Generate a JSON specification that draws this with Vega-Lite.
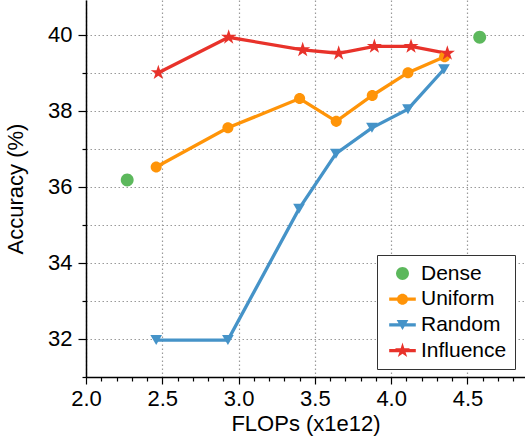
{
  "$schema": "https://vega.github.io/schema/vega-lite/v6.json",
  "width": 439,
  "height": 377,
  "autosize": {"type": "none"},
  "padding": {"left": 86, "top": 0, "right": 0, "bottom": 60},
  "background": "white",
  "data": {
    "values": [
      {"series": "Dense", "flops": 2.27, "acc": 36.18},
      {"series": "Dense", "flops": 4.58, "acc": 39.93},
      {"series": "Uniform", "flops": 2.46, "acc": 36.52},
      {"series": "Uniform", "flops": 2.93, "acc": 37.55},
      {"series": "Uniform", "flops": 3.40, "acc": 38.32},
      {"series": "Uniform", "flops": 3.64, "acc": 37.72},
      {"series": "Uniform", "flops": 3.876, "acc": 38.40},
      {"series": "Uniform", "flops": 4.11, "acc": 39.0},
      {"series": "Uniform", "flops": 4.35, "acc": 39.42},
      {"series": "Random", "flops": 2.46, "acc": 31.97},
      {"series": "Random", "flops": 2.93, "acc": 31.97},
      {"series": "Random", "flops": 3.396, "acc": 35.42},
      {"series": "Random", "flops": 3.638, "acc": 36.87},
      {"series": "Random", "flops": 3.874, "acc": 37.55},
      {"series": "Random", "flops": 4.11, "acc": 38.04},
      {"series": "Random", "flops": 4.346, "acc": 39.09},
      {"series": "Influence", "flops": 2.474, "acc": 39.0},
      {"series": "Influence", "flops": 2.935, "acc": 39.93},
      {"series": "Influence", "flops": 3.42, "acc": 39.6},
      {"series": "Influence", "flops": 3.656, "acc": 39.51},
      {"series": "Influence", "flops": 3.89, "acc": 39.69},
      {"series": "Influence", "flops": 4.13, "acc": 39.69},
      {"series": "Influence", "flops": 4.368, "acc": 39.51}
    ]
  },
  "config": {
    "font": "Liberation Sans",
    "view": {"stroke": null},
    "axis": {
      "labelFont": "Liberation Sans",
      "titleFont": "Liberation Sans",
      "labelFontSize": 22,
      "titleFontSize": 22,
      "titleFontWeight": "normal",
      "labelColor": "black",
      "titleColor": "black",
      "domainColor": "black",
      "domainWidth": 1.5,
      "tickColor": "black",
      "tickWidth": 1.2,
      "gridColor": "#9a9a9a",
      "gridDash": [1.5, 2.5],
      "gridWidth": 1.2
    },
    "legend": {
      "title": null,
      "orient": "none",
      "legendX": 291,
      "legendY": 255,
      "labelFont": "Liberation Sans",
      "labelFontSize": 21,
      "labelColor": "black",
      "strokeColor": "#333333",
      "fillColor": "white",
      "padding": 8,
      "rowPadding": 3.7,
      "symbolSize": 177,
      "symbolOffset": 7,
      "labelOffset": 8,
      "symbolStrokeWidth": 0
    }
  },
  "encoding": {
    "x": {
      "field": "flops",
      "type": "quantitative",
      "scale": {"domain": [2.0, 4.877], "nice": false, "zero": false},
      "axis": {
        "title": "FLOPs (x1e12)",
        "values": [2.0, 2.1, 2.2, 2.3, 2.4, 2.5, 2.6, 2.7, 2.8, 2.9, 3.0, 3.1, 3.2, 3.3, 3.4, 3.5, 3.6, 3.7, 3.8, 3.9, 4.0, 4.1, 4.2, 4.3, 4.4, 4.5, 4.6, 4.7, 4.8],
        "format": ".1f",
        "labelExpr": "abs(datum.value*2 - round(datum.value*2)) < 0.01 ? datum.label : ''",
        "tickSize": {"condition": {"test": "abs(datum.value*2 - round(datum.value*2)) < 0.01", "value": 7}, "value": 4},
        "gridOpacity": {"condition": {"test": "abs(datum.value*2 - round(datum.value*2)) < 0.01", "value": 1}, "value": 0},
        "labelPadding": 4,
        "titlePadding": 4,
        "labelFlush": false,
        "labelOverlap": false
      }
    },
    "y": {
      "field": "acc",
      "type": "quantitative",
      "scale": {"domain": [31, 40.91], "nice": false, "zero": false},
      "axis": {
        "title": "Accuracy (%)",
        "values": [31, 32, 33, 34, 35, 36, 37, 38, 39, 40],
        "labelExpr": "datum.value % 2 === 0 ? datum.label : ''",
        "tickSize": {"condition": {"test": "datum.value % 2 === 0", "value": 8}, "value": 4},
        "labelPadding": 6,
        "titlePadding": 20,
        "labelFlush": false,
        "labelOverlap": false
      }
    }
  },
  "layer": [
    {
      "transform": [{"filter": "datum.series !== 'Dense'"}],
      "mark": {"type": "line", "strokeWidth": 3.3},
      "encoding": {
        "stroke": {
          "field": "series",
          "type": "nominal",
          "scale": {"domain": ["Uniform", "Random", "Influence"], "range": ["#ff9408", "#4593c8", "#e8322a"]},
          "legend": null
        },
        "detail": {"field": "series"}
      }
    },
    {
      "transform": [{"filter": "datum.series === 'Dense'"}],
      "mark": {"type": "point", "filled": true, "opacity": 1, "size": 177, "strokeWidth": 0, "shape": "M0,-0.97 A0.97,0.97 0 1,1 0,0.97 A0.97,0.97 0 1,1 0,-0.97 Z"},
      "encoding": {
        "fill": {"field": "series", "type": "nominal", "scale": {"domain": ["Influence", "Random", "Uniform", "Dense"], "range": ["#e8322a", "#4593c8", "#ff9408", "#5cb85c"]}, "legend": null}
      }
    },
    {
      "transform": [{"filter": "datum.series === 'Uniform'"}],
      "mark": {"type": "point", "filled": true, "opacity": 1, "size": 177, "strokeWidth": 0, "shape": "M0,-0.83 A0.83,0.83 0 1,1 0,0.83 A0.83,0.83 0 1,1 0,-0.83 Z"},
      "encoding": {
        "fill": {"field": "series", "type": "nominal", "scale": {"domain": ["Influence", "Random", "Uniform", "Dense"], "range": ["#e8322a", "#4593c8", "#ff9408", "#5cb85c"]}, "legend": null}
      }
    },
    {
      "transform": [{"filter": "datum.series === 'Random'"}],
      "mark": {"type": "point", "filled": true, "opacity": 1, "size": 177, "strokeWidth": 0, "shape": "M-0.88,-0.75 L0.88,-0.75 L0,0.75 Z"},
      "encoding": {
        "fill": {"field": "series", "type": "nominal", "scale": {"domain": ["Influence", "Random", "Uniform", "Dense"], "range": ["#e8322a", "#4593c8", "#ff9408", "#5cb85c"]}, "legend": null}
      }
    },
    {
      "transform": [{"filter": "datum.series === 'Influence'"}],
      "mark": {"type": "point", "filled": true, "opacity": 1, "size": 177, "strokeWidth": 0, "shape": "M0,-1.2 L0.27,-0.37 L1.14,-0.37 L0.43,0.14 L0.7,0.97 L0,0.46 L-0.7,0.97 L-0.43,0.14 L-1.14,-0.37 L-0.27,-0.37 Z"},
      "encoding": {
        "fill": {"field": "series", "type": "nominal", "scale": {"domain": ["Influence", "Random", "Uniform", "Dense"], "range": ["#e8322a", "#4593c8", "#ff9408", "#5cb85c"]}, "legend": null}
      }
    },
    {
      "transform": [{"filter": "false"}],
      "mark": {"type": "point", "filled": true, "opacity": 1, "size": 177, "strokeWidth": 0},
      "encoding": {
        "color": {
          "field": "series",
          "type": "nominal",
          "scale": {"domain": ["Dense", "Uniform", "Random", "Influence"], "range": ["#5cb85c", "#ff9408", "#4593c8", "#e8322a"]},
          "legend": {"labelExpr": "datum.label + '\u00a0'"}
        },
        "shape": {
          "field": "series",
          "type": "nominal",
          "scale": {"domain": ["Dense", "Uniform", "Random", "Influence"], "range": ["M0,-0.97 A0.97,0.97 0 1,1 0,0.97 A0.97,0.97 0 1,1 0,-0.97 Z", "M-2,-0.25 L2,-0.25 L2,0.25 L-2,0.25 Z M0,-0.83 A0.83,0.83 0 1,1 0,0.83 A0.83,0.83 0 1,1 0,-0.83 Z", "M-2,-0.25 L2,-0.25 L2,0.25 L-2,0.25 Z M-0.88,-0.75 L0.88,-0.75 L0,0.75 Z", "M-2,-0.25 L2,-0.25 L2,0.25 L-2,0.25 Z M0,-1.2 L0.27,-0.37 L1.14,-0.37 L0.43,0.14 L0.7,0.97 L0,0.46 L-0.7,0.97 L-0.43,0.14 L-1.14,-0.37 L-0.27,-0.37 Z"]},
          "legend": {"labelExpr": "datum.label + '\u00a0'"}
        }
      }
    }
  ]
}
